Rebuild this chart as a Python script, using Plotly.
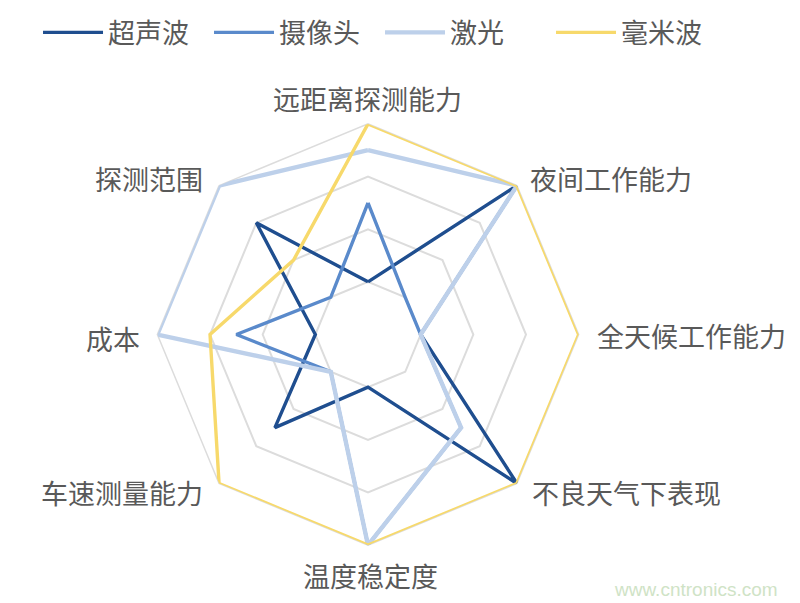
import plotly.graph_objects as go

# axes, clockwise from the top
categories = ["远距离探测能力", "夜间工作能力", "全天候工作能力", "不良天气下表现",
              "温度稳定度", "车速测量能力", "成本", "探测范围"]

ultrasonic = [1, 4, 1, 4, 1, 2.5, 1, 3]
camera = [2.5, 1, 1, 2.5, 4, 1, 2.5, 1]
lidar = [3.5, 4, 1, 2.5, 4, 1, 4, 4]
mmwave = [4, 4, 4, 4, 4, 4, 3, 2]

series_names = ["超声波", "摄像头", "激光", "毫米波"]
series_values = [ultrasonic, camera, lidar, mmwave]
colors = ["#1F4E8F", "#5A8ACB", "#BDD0EA", "#F7D96B"]
widths = [3.4, 3.4, 4.4, 3.4]

fig = go.Figure()

for name, vals, col, w in zip(series_names, series_values, colors, widths):
    fig.add_trace(go.Scatterpolar(
        r=vals + vals[:1],
        theta=categories + categories[:1],
        mode="lines",
        name=name,
        line=dict(color=col, width=w),
    ))

# axis labels placed by hand so the diagonal ones sit level with their corners
label_pos = [
    (0.4545, 0.8655, "center"),
    (0.6566, 0.7277, "left"),
    (0.7412, 0.4588, "left"),
    (0.6591, 0.1899, "left"),
    (0.4571, 0.0471, "center"),
    (0.2487, 0.1899, "right"),
    (0.1692, 0.4538, "right"),
    (0.2487, 0.7277, "right"),
]
annotations = [
    dict(text=cat, x=x, y=y, xref="paper", yref="paper",
         xanchor=anchor, yanchor="middle", showarrow=False,
         font=dict(size=27, color="#595959"))
    for cat, (x, y, anchor) in zip(categories, label_pos)
]
annotations.append(dict(
    text="www.cntronics.com",
    x=0.975, y=0.0235, xref="paper", yref="paper",
    xanchor="right", yanchor="middle",
    showarrow=False,
    font=dict(family="Liberation Sans", size=19, color="#CFE3C6"),
))

# page body adds an 8px offset, so the figure is sized to fit the window
fig.update_layout(
    width=792,
    height=595,
    paper_bgcolor="white",
    plot_bgcolor="white",
    margin=dict(l=0, r=0, t=0, b=0),
    font=dict(family="Noto Sans CJK SC", size=27, color="#595959"),
    showlegend=True,
    legend=dict(
        orientation="h",
        x=0.0379, y=0.978,
        xanchor="left", yanchor="middle",
        font=dict(size=27, color="#595959"),
        itemwidth=60,
        entrywidth=96,
        entrywidthmode="pixels",
        bgcolor="rgba(0,0,0,0)",
    ),
    polar=dict(
        domain=dict(x=[0.1831, 0.7260], y=[0.0992, 0.8218]),
        bgcolor="white",
        gridshape="linear",
        radialaxis=dict(
            range=[0, 4],
            tickvals=[1, 2, 3, 4],
            showticklabels=False,
            showline=False,
            ticks="",
            gridcolor="#DCDCDC",
            gridwidth=1.5,
            layer="below traces",
        ),
        angularaxis=dict(
            rotation=90,
            direction="clockwise",
            showgrid=False,
            showticklabels=False,
            linecolor="#DCDCDC",
            linewidth=1.5,
            ticks="",
            layer="below traces",
        ),
    ),
    annotations=annotations,
)

fig.write_html("out.html")
